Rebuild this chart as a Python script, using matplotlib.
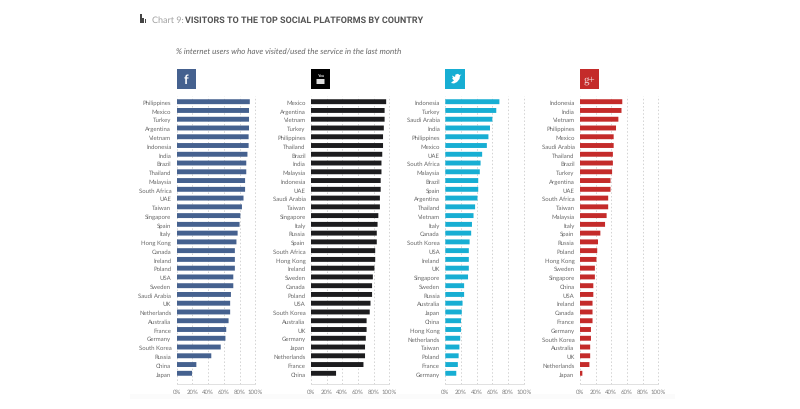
import matplotlib
matplotlib.use('Agg')
import matplotlib.pyplot as plt
from matplotlib.patches import Rectangle, Polygon, FancyBboxPatch

# 数据
fb_names = ['Philippines','Mexico','Turkey','Argentina','Vietnam','Indonesia','India','Brazil','Thailand','Malaysia','South Africa','UAE','Taiwan','Singapore','Spain','Italy','Hong Kong','Canada','Ireland','Poland','USA','Sweden','Saudi Arabia','UK','Netherlands','Australia','France','Germany','South Korea','Russia','China','Japan']
fb_vals = [93,92,92,92,91.5,91.5,90,88.5,88.5,87,87,85,83,81,80,77.5,76,74,74,74,72,72,69,68,68,66,63,62,56,44,25,19.5]
yt_names = ['Mexico','Argentina','Vietnam','Turkey','Philippines','Thailand','Brazil','India','Malaysia','Indonesia','UAE','Saudi Arabia','Taiwan','Singapore','Italy','Russia','Spain','South Africa','Hong Kong','Ireland','Sweden','Canada','Poland','USA','South Korea','Australia','UK','Germany','Japan','Netherlands','France','China']
yt_vals = [96,94,94,93,92,92,91,90,90,89,89,88,88,86,85,84,84,82,82,81,79,78,78,76,75,71,71,70,69,69,67,32]
tw_names = ['Indonesia','Turkey','Saudi Arabia','India','Philippines','Mexico','UAE','South Africa','Malaysia','Brazil','Spain','Argentina','Thailand','Vietnam','Italy','Canada','South Korea','USA','Ireland','UK','Singapore','Sweden','Russia','Australia','Japan','China','Hong Kong','Netherlands','Taiwan','Poland','France','Germany']
tw_vals = [69,65,60,57,55,53,47,45,44,42,42,41,38,36,34,33,31,30,30,30,29,24,24,22,21,20,20,19,18,17,16,14]
gp_names = ['Indonesia','India','Vietnam','Philippines','Mexico','Saudi Arabia','Thailand','Brazil','Turkey','Argentina','UAE','South Africa','Taiwan','Malaysia','Italy','Spain','Russia','Poland','Hong Kong','Sweden','Singapore','China','USA','Ireland','Canada','France','Germany','South Korea','Australia','UK','Netherlands','Japan']
gp_vals = [54,53,49,46,43,43,42,42,41,39,39,36,36,34,32,26,23,22,21,19,19,17,17,16,16,16,14,14,13,13,12,3]
ticks = [0,20,40,60,80,100]
tick_labels = ['0%','20%','40%','60%','80%','100%']

W, H = 800, 410
plt.rcParams['font.family'] = ['Lato', 'DejaVu Sans']
plt.rcParams['text.hinting'] = 'no_hinting'
plt.rcParams['text.hinting_factor'] = 1
fig = plt.figure(figsize=(W/100, H/100), dpi=100, facecolor='white')

def px_rect(x, y, w, h, color):
    # x,y是图片左上角像素
    fig.add_artist(Rectangle((x/W, 1-(y+h)/H), w/W, h/H, transform=fig.transFigure, color=color, lw=0))

def draw_panel(names, vals, color, x0, x1):
    top, bottom = 97.0, 385.0
    ax = fig.add_axes([x0/W, 1-bottom/H, (x1-x0)/W, (bottom-top)/H])
    ax.patch.set_alpha(0)
    ypos = list(range(len(names)))
    ax.barh(ypos, vals, height=0.56, color=color, zorder=3, snap=False)
    ax.set_xlim(0, 100)
    ax.set_ylim(31+(385-374.3)/8.76, -(102.7-97)/8.76)
    ax.set_yticks(ypos)
    ax.set_yticklabels(names, fontsize=4.35, color='#6a6a6a')
    ax.set_xticks(ticks)
    ax.set_xticklabels(tick_labels, fontsize=4.1, color='#808080')
    ax.tick_params(axis='y', length=0, pad=3.9)
    ax.tick_params(axis='x', length=0, pad=3.2)
    ax.grid(axis='x', color='#d2d2d2', linestyle=(0, (1.5, 2.2)), linewidth=0.7, zorder=1)
    for g in ax.get_xgridlines():
        g.set_clip_on(False)
    for s in ['top', 'right', 'left']:
        ax.spines[s].set_visible(False)
    ax.spines['bottom'].set_color('#dcdcdc')
    ax.spines['bottom'].set_linewidth(0.6)
    px_rect(x0, 70, 19.3, 19.5, color)

# 底部很淡的灰带
px_rect(130, 395, 545, 5, '#fbfbfb')

draw_panel(fb_names, fb_vals, '#45618f', 176.7, 255.3)
draw_panel(yt_names, yt_vals, '#1c1c1e', 311, 389.3)
draw_panel(tw_names, tw_vals, '#17aed3', 445.3, 523.7)
draw_panel(gp_names, gp_vals, '#c42b2a', 580, 658.3)

# 图标
fig.text(186.3/W, 1-80/H, 'f', color='white', fontsize=9.5, fontweight='bold', ha='center', va='center')
px_rect(311, 70, 19.3, 19.5, '#000000')
fig.text(320.6/W, 1-75.5/H, 'You', color='#dddddd', fontsize=3.2, fontweight='bold', ha='center', va='center')
fig.add_artist(FancyBboxPatch((316.5/W, 1-85/H), 8/W, 5/H, boxstyle='round,pad=0', transform=fig.transFigure, color='#dddddd', lw=0))
bird = [(451,84),(454,84.5),(457,83),(459.5,80),(460,77),(461.5,75.5),(459.5,76),(458,74.8),(455.5,75.5),(455,78),(452,76.5),(453,79),(452,79.5),(454,81.5),(452.5,82.5)]
fig.add_artist(Polygon([(x/W, 1-y/H) for x, y in bird], closed=True, transform=fig.transFigure, color='white', lw=0))
fig.text(589.6/W, 1-80/H, 'g+', color='#f2dcdc', fontsize=8, family='Liberation Serif', ha='center', va='center')

# 标题
px_rect(139.8, 15, 1.9, 9, '#444444')
px_rect(142.4, 18.5, 1.6, 5.5, '#444444')
px_rect(144.6, 20, 1.5, 4, '#444444')
fig.text(152/W, 1-20.7/H, 'Chart 9:', fontsize=6.4, color='#a0a0a0', va='center')
fig.text(185/W, 1-20.7/H, 'VISITORS TO THE TOP SOCIAL PLATFORMS BY COUNTRY', fontsize=6.15, color='#555555', fontweight='bold', family='Roboto', va='center')
fig.text(176/W, 1-52.5/H, '% internet users who have visited/used the service in the last month', fontsize=6.0, color='#666666', style='italic', va='center')

fig.savefig('out.png', dpi=100)
